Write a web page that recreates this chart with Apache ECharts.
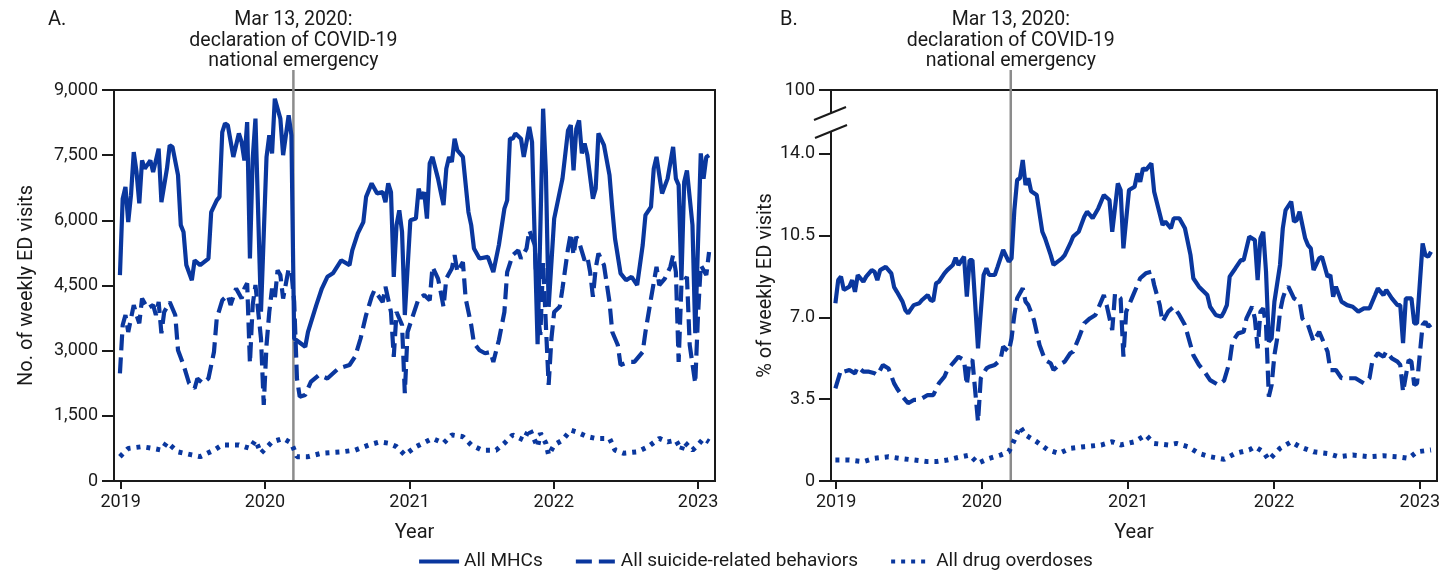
<!DOCTYPE html>
<html>
<head>
<meta charset="utf-8">
<title>Weekly ED visits</title>
<script src="https://cdn.jsdelivr.net/npm/echarts@6/dist/echarts.min.js"></script>
<style>
html, body { margin: 0; padding: 0; background: #fff; }
#chart { width: 1455px; height: 571px; }
</style>
</head>
<body>
<div id="chart"></div>
<script>
// weekly points, [week number, value]; week 0 = week starting 2018-12-30
var weekStart = Date.UTC(2018, 11, 30);
var emergencyDay = Date.UTC(2020, 2, 13);
var yearTicks = [2019, 2020, 2021, 2022, 2023];
var pctTicks = [0, 3.5, 7, 10.5, 14];
var pctTopLabel = '100';

// A. number of weekly ED visits
var mhcCount = [[0,4740],[1,6500],[2,6770],[3,5960],[4,6580],[5,7570],[6,7110],[7,6390],[8,7380],[9,7190],[11,7380],[12,7110],[14,7650],[15,6420],[17,7190],[18,7730],[19,7690],[21,7040],[22,5890],[23,5730],[24,4970],[26,4620],[27,5080],[29,4970],[32,5120],[33,6190],[35,6460],[36,6540],[37,8030],[38,8230],[39,8190],[41,7460],[43,8000],[44,7800],[45,7380],[46,8260],[47,5120],[48,7420],[49,8340],[51,3900],[53,7460],[54,7960],[55,7540],[56,8800],[58,8340],[59,7500],[61,8420],[62,7960],[63,3280],[67,3090],[68,3430],[71,4050],[73,4430],[75,4700],[77,4780],[80,5080],[83,4970],[84,5310],[86,5700],[88,5960],[89,6540],[91,6850],[93,6620],[95,6650],[96,6420],[97,6850],[98,6650],[99,4700],[100,5890],[101,6230],[102,5730],[103,3820],[105,6000],[107,6040],[108,6730],[109,6500],[110,6650],[111,6040],[112,7310],[113,7460],[115,6960],[116,6650],[117,6350],[118,7190],[119,7460],[120,7340],[121,7880],[122,7610],[124,7460],[126,6190],[127,5890],[128,5350],[130,5120],[133,5160],[135,4810],[137,5430],[139,6270],[140,6460],[141,7880],[142,7880],[143,8000],[145,7880],[146,7460],[147,7800],[148,8150],[149,7800],[151,3150],[152,5810],[153,8570],[154,7110],[155,4010],[157,6040],[160,6960],[162,8070],[163,8190],[164,7150],[165,8110],[166,8300],[167,7540],[168,7770],[169,7500],[171,6500],[172,6730],[173,8000],[175,7730],[177,7040],[178,6270],[179,5580],[181,4780],[183,4620],[185,4700],[187,4510],[189,5430],[190,6120],[192,6310],[193,7190],[194,7460],[196,6620],[198,6960],[200,7690],[201,6960],[202,6810],[203,4620],[204,6880],[205,7150],[207,5890],[208,3400],[210,7540],[211,6960],[212,7460],[213,7500]];
var suicideCount = [[0,2480],[1,3590],[2,3820],[3,3430],[5,4050],[6,3820],[7,3630],[8,4200],[10,3970],[12,4050],[13,3820],[14,4120],[15,3400],[16,3890],[18,4120],[20,3820],[21,3010],[23,2670],[25,2250],[27,2130],[28,2360],[30,2250],[32,2360],[34,2970],[35,3740],[37,4160],[39,4280],[40,4050],[42,4430],[44,4200],[45,4430],[46,4550],[47,2710],[48,4050],[49,4510],[51,3280],[52,1750],[53,3130],[54,3890],[55,4430],[56,4200],[57,4850],[58,4740],[59,4200],[61,4890],[62,4810],[63,4120],[64,2360],[65,1940],[67,1980],[69,2280],[72,2440],[75,2360],[79,2590],[83,2670],[85,2860],[87,3280],[89,3820],[91,4240],[92,4390],[95,4120],[96,4470],[98,3890],[99,2860],[100,3890],[102,3590],[103,2020],[104,3430],[106,3820],[108,4200],[110,4280],[112,4160],[113,4930],[115,4660],[116,4350],[117,4010],[118,4660],[120,4890],[121,5200],[122,4810],[124,5040],[125,4200],[127,3590],[128,3170],[130,3010],[132,2940],[134,2970],[135,2740],[137,3240],[139,3890],[140,4810],[142,5200],[144,5310],[145,5120],[147,5350],[148,5770],[150,5430],[151,3890],[152,3360],[153,5040],[154,3590],[155,2210],[156,3280],[157,3890],[159,4010],[160,4430],[162,5350],[163,5700],[164,5200],[165,5620],[166,5500],[168,5080],[169,5160],[170,4810],[171,4240],[172,4890],[173,5240],[175,4970],[177,4120],[178,3430],[180,3130],[181,2670],[184,2740],[186,2740],[189,2970],[190,3430],[192,4200],[194,4930],[195,4510],[197,4660],[199,4930],[200,5200],[201,4810],[202,2740],[203,4510],[205,4700],[206,3130],[208,2250],[209,3820],[210,4970],[212,4740],[213,5270]];
var overdoseCount = [[0,560],[3,750],[8,790],[12,750],[15,710],[17,890],[21,670],[26,600],[29,560],[34,710],[37,830],[43,830],[47,750],[49,940],[51,640],[55,900],[59,980],[62,870],[64,560],[68,560],[73,640],[80,670],[85,710],[90,830],[94,900],[97,870],[100,790],[103,600],[107,790],[113,980],[117,870],[120,1060],[124,1020],[127,830],[131,710],[136,710],[139,870],[142,1060],[146,940],[148,1210],[151,790],[152,1100],[154,870],[155,600],[157,830],[160,940],[163,1170],[165,1130],[169,1020],[172,980],[177,980],[179,710],[182,640],[187,670],[191,790],[195,980],[198,900],[201,940],[203,710],[204,900],[207,710],[209,830],[211,980],[213,900]];

// B. percent of weekly ED visits
var mhcPct = [[0,7.61],[1,8.60],[2,8.75],[3,8.18],[5,8.32],[6,8.60],[7,8.10],[8,8.82],[10,8.53],[11,8.75],[13,9.03],[14,8.96],[15,8.60],[16,9.03],[18,9.17],[20,8.89],[21,8.30],[22,8.10],[24,7.68],[25,7.32],[26,7.18],[28,7.53],[30,7.61],[31,7.75],[33,7.96],[34,7.75],[35,7.71],[36,8.46],[37,8.53],[39,8.89],[40,9.03],[42,9.25],[43,9.56],[44,9.25],[46,9.60],[47,7.89],[48,9.46],[49,9.46],[51,5.68],[53,8.82],[54,9.10],[55,8.82],[57,8.82],[58,9.17],[60,9.89],[62,9.39],[63,9.53],[64,11.60],[65,12.89],[66,12.96],[67,13.74],[68,12.67],[69,12.96],[70,12.40],[72,12.24],[74,10.67],[75,10.39],[77,9.67],[78,9.25],[81,9.53],[82,9.67],[84,10.17],[85,10.46],[87,10.67],[89,11.31],[90,11.53],[92,11.25],[94,11.67],[96,12.24],[98,12.03],[99,10.67],[101,12.74],[102,12.46],[103,9.96],[105,12.46],[107,12.60],[108,13.17],[109,12.81],[110,13.39],[111,13.31],[113,13.60],[114,12.38],[117,10.96],[118,11.10],[120,10.82],[121,11.25],[123,11.25],[125,10.82],[127,9.67],[128,8.68],[130,8.32],[133,7.96],[134,7.46],[136,7.11],[138,7.03],[139,7.25],[140,7.53],[141,8.75],[143,9.10],[145,9.46],[146,9.46],[148,10.46],[149,10.39],[150,10.32],[151,8.60],[152,10.39],[153,10.67],[154,8.96],[155,5.97],[156,6.11],[157,7.68],[159,9.25],[160,10.82],[161,11.60],[163,11.96],[164,11.10],[165,11.17],[166,11.53],[168,10.39],[169,10.10],[170,9.96],[171,9.03],[173,9.53],[174,9.60],[176,8.75],[177,8.82],[178,7.89],[179,8.32],[181,7.68],[183,7.53],[185,7.46],[187,7.25],[189,7.39],[191,7.39],[193,7.96],[194,8.25],[196,7.96],[197,8.18],[199,7.82],[201,7.53],[202,7.53],[203,5.90],[204,7.82],[206,7.82],[207,6.75],[208,6.75],[210,10.17],[211,9.67],[212,9.60],[213,9.82]];
var suicidePct = [[0,3.97],[2,4.75],[3,4.68],[5,4.75],[7,4.61],[8,4.89],[10,4.68],[12,4.68],[14,4.61],[15,4.54],[17,4.97],[19,4.82],[21,4.18],[22,3.97],[24,3.61],[26,3.33],[28,3.47],[30,3.47],[31,3.54],[33,3.68],[35,3.68],[37,4.18],[39,4.47],[40,4.75],[42,5.04],[44,5.32],[46,5.18],[47,4.11],[48,5.11],[49,5.18],[51,2.54],[52,4.40],[54,4.82],[55,4.89],[57,4.97],[59,5.18],[60,5.75],[62,5.54],[63,6.11],[64,7.11],[65,7.82],[67,8.25],[68,7.68],[69,7.53],[71,6.89],[73,5.82],[75,5.18],[77,5.04],[78,4.75],[80,4.97],[82,5.11],[84,5.47],[85,5.54],[87,6.11],[89,6.75],[91,6.96],[93,7.11],[94,7.39],[96,7.96],[97,7.53],[99,6.46],[100,8.03],[102,7.82],[103,5.32],[104,7.25],[106,7.82],[108,8.39],[109,8.68],[111,8.89],[113,8.96],[114,8.39],[116,7.53],[117,6.82],[119,7.25],[121,7.46],[123,7.11],[125,6.68],[127,5.82],[128,5.39],[130,4.97],[132,4.68],[134,4.32],[137,4.11],[139,4.30],[141,5.11],[142,5.97],[144,6.32],[146,6.39],[147,6.96],[149,7.46],[150,6.96],[151,5.68],[152,7.25],[153,7.39],[154,6.68],[155,3.61],[156,4.11],[157,5.39],[158,6.11],[159,7.25],[160,7.82],[161,8.18],[162,8.32],[164,7.82],[166,7.68],[167,6.96],[169,6.68],[171,5.97],[173,6.39],[174,6.11],[176,5.54],[177,4.75],[179,4.75],[181,4.40],[183,4.40],[186,4.40],[189,4.18],[191,4.40],[192,5.11],[194,5.47],[196,5.32],[197,5.54],[199,5.25],[201,5.11],[202,4.97],[203,3.82],[205,5.18],[206,5.11],[207,4.11],[208,4.18],[210,6.68],[211,6.82],[212,6.61],[213,6.70]];
var overdosePct = [[0,0.90],[5,0.90],[10,0.83],[14,0.97],[19,1.04],[23,0.97],[28,0.90],[33,0.83],[36,0.83],[40,0.90],[45,1.04],[48,1.11],[51,0.76],[55,0.97],[59,1.11],[62,1.25],[64,1.76],[66,2.33],[68,1.97],[72,1.68],[76,1.33],[80,1.18],[84,1.40],[89,1.47],[95,1.54],[99,1.68],[102,1.54],[107,1.68],[111,1.97],[114,1.61],[119,1.54],[122,1.61],[126,1.47],[130,1.18],[134,1.04],[139,0.93],[143,1.18],[148,1.33],[150,1.47],[153,1.25],[155,0.90],[159,1.40],[163,1.68],[166,1.47],[171,1.25],[176,1.18],[180,1.04],[185,1.11],[191,1.04],[196,1.08],[201,1.04],[205,0.97],[208,1.25],[213,1.33]];

var names = ['All MHCs', 'All suicide-related behaviors', 'All drug overdoses'];

var blue = '#0a379e';
var ink = '#1a1a1a';
var font = 'Roboto, "Liberation Sans", sans-serif';
var DAY = 86400000;
// room above 14.0 that stands for the cut part of the axis up to 100
var pctAxisTop = 16.74;

var lineStyles = [
    { width: 4.2, type: 'solid' },
    { width: 4.2, type: [16, 7] },
    { width: 5, type: [4, 6] }
];

function toSeries(name, pts, idx, styleIdx) {
    return {
        name: name,
        type: 'line',
        xAxisIndex: idx,
        yAxisIndex: idx,
        data: pts.map(function (p) { return [weekStart + p[0] * 7 * DAY, p[1]]; }),
        showSymbol: false,
        symbol: 'none',
        animation: false,
        color: blue,
        lineStyle: Object.assign({ color: blue, cap: 'butt' }, lineStyles[styleIdx])
    };
}

var yearValues = yearTicks.map(function (y) { return Date.UTC(y, 0, 1); });

// x is a plain value axis holding timestamps, so the year ticks can be placed exactly
function xAxis(idx, minDay) {
    return {
        type: 'value',
        gridIndex: idx,
        min: minDay,
        max: Date.UTC(2023, 1, 13),
        name: 'Year',
        nameLocation: 'middle',
        nameGap: 42,
        nameTextStyle: { fontFamily: font, fontSize: 20, color: ink },
        axisLine: { lineStyle: { color: ink, width: 2 } },
        axisTick: { customValues: yearValues, length: 8, lineStyle: { color: ink, width: 2 } },
        axisLabel: {
            customValues: yearValues,
            fontFamily: font, fontSize: 18, color: ink, margin: 12,
            formatter: function (v) { return String(new Date(v).getUTCFullYear()); }
        },
        splitLine: { show: false }
    };
}

var chart = echarts.init(document.getElementById('chart'));

chart.setOption({
    backgroundColor: '#fff',
    animation: false,
    grid: [
        { left: 114, top: 90, width: 601, height: 391, show: true, borderColor: ink, borderWidth: 2 },
        { left: 831, top: 90, width: 606, height: 391, show: true, borderColor: ink, borderWidth: 2 }
    ],
    legend: {
        data: names.map(function (n, i) {
            return { name: n, lineStyle: { type: lineStyles[i].type, width: 4.2, color: blue } };
        }),
        left: 412,
        top: 547,
        itemWidth: 40,
        itemHeight: 14,
        itemGap: 31,
        itemStyle: { opacity: 0 },
        textStyle: { fontFamily: font, fontSize: 19, color: ink }
    },
    xAxis: [xAxis(0, Date.UTC(2018, 11, 15)), xAxis(1, Date.UTC(2018, 11, 19))],
    yAxis: [
        {
            type: 'value', gridIndex: 0, min: 0, max: 9000, interval: 1500,
            name: 'No. of weekly ED visits', nameLocation: 'middle', nameGap: 77, nameRotate: 90,
            nameTextStyle: { fontFamily: font, fontSize: 20, color: ink },
            axisLine: { show: true, lineStyle: { color: ink, width: 2 } },
            axisTick: { show: true, length: 12, lineStyle: { color: ink, width: 2 } },
            axisLabel: {
                fontFamily: font, fontSize: 18, color: ink, margin: 16,
                formatter: function (v) { return v.toLocaleString('en-US'); }
            },
            splitLine: { show: false }
        },
        {
            type: 'value', gridIndex: 1, min: 0, max: pctAxisTop,
            name: '% of weekly ED visits', nameLocation: 'middle', nameGap: 51, nameRotate: 90,
            nameTextStyle: { fontFamily: font, fontSize: 20, color: ink },
            axisLine: { show: true, lineStyle: { color: ink, width: 2 } },
            axisTick: { show: true, customValues: pctTicks.concat([pctAxisTop]), length: 12, lineStyle: { color: ink, width: 2 } },
            axisLabel: {
                customValues: pctTicks.concat([pctAxisTop]),
                fontFamily: font, fontSize: 18, color: ink, margin: 16,
                formatter: function (v) {
                    if (v === pctAxisTop) return pctTopLabel;
                    return v === 0 ? '0' : v.toFixed(1);
                }
            },
            splitLine: { show: false }
        }
    ],
    series: [
        toSeries(names[0], mhcCount, 0, 0),
        toSeries(names[1], suicideCount, 0, 1),
        toSeries(names[2], overdoseCount, 0, 2),
        toSeries(names[0], mhcPct, 1, 0),
        toSeries(names[1], suicidePct, 1, 1),
        toSeries(names[2], overdosePct, 1, 2)
    ]
});

// emergency line, notes, panel letters and the axis break
var note = 'Mar 13, 2020:\ndeclaration of COVID-19\nnational emergency';
var gfx = [];
[0, 1].forEach(function (i) {
    var x = chart.convertToPixel({ xAxisIndex: i }, emergencyDay);
    gfx.push({
        type: 'line', z: 1, silent: true,
        shape: { x1: x, y1: 70, x2: x, y2: 480 },
        style: { stroke: '#8c8c8c', lineWidth: 2.5 }
    });
    gfx.push({
        type: 'text', z: 10, silent: true,
        x: x, y: 10,
        style: {
            text: note, align: 'center', verticalAlign: 'top',
            font: '19.5px ' + font, fill: ink, lineHeight: 20.5
        }
    });
});
gfx.push({ type: 'text', x: 48, y: 10, style: { text: 'A.', font: '20px ' + font, fill: ink } });
gfx.push({ type: 'text', x: 780, y: 10, style: { text: 'B.', font: '20px ' + font, fill: ink } });
gfx.push({
    type: 'polygon', z: 20, silent: true,
    shape: { points: [[814, 120], [846, 107], [847, 125], [815, 138]] },
    style: { fill: '#fff' }
});
gfx.push({
    type: 'line', z: 21, silent: true,
    shape: { x1: 814, y1: 120, x2: 846, y2: 107 },
    style: { stroke: ink, lineWidth: 2 }
});
gfx.push({
    type: 'line', z: 21, silent: true,
    shape: { x1: 815, y1: 138, x2: 847, y2: 125 },
    style: { stroke: ink, lineWidth: 2 }
});
chart.setOption({ graphic: gfx });
</script>
</body>
</html>
